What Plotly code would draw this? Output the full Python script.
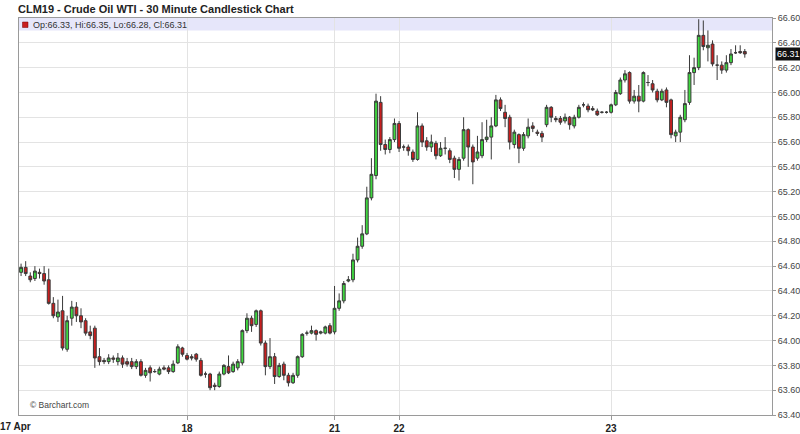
import plotly.graph_objects as go

# ---------------- data (30-minute bars) ----------------
opens = [
    64.55, 64.59, 64.52, 64.50, 64.55, 64.54, 64.49, 64.30, 64.19, 64.24,
    63.93, 64.18, 64.27, 64.20, 64.16, 64.07, 64.10, 63.87, 63.84, 63.83,
    63.86, 63.83, 63.86, 63.83, 63.83, 63.79, 63.83, 63.72, 63.78, 63.75,
    63.73, 63.78, 63.78, 63.75, 63.82, 63.94, 63.88, 63.87, 63.89, 63.84,
    63.73, 63.73, 63.64, 63.63, 63.73, 63.79, 63.75, 63.78, 63.82, 64.08,
    64.18, 64.13, 64.24, 63.98, 63.79, 63.87, 63.71, 63.81, 63.72, 63.66,
    63.72, 63.87, 64.06, 64.06, 64.08, 64.06, 64.06, 64.12, 64.07, 64.26,
    64.32, 64.48, 64.49, 64.65, 64.76, 64.86, 65.15, 65.33, 65.92, 65.58,
    65.54, 65.62, 65.75, 65.56, 65.56, 65.52, 65.46, 65.73, 65.61, 65.56,
    65.59, 65.49, 65.55, 65.53, 65.47, 65.38, 65.47, 65.70, 65.56, 65.47,
    65.49, 65.62, 65.64, 65.73, 65.94, 65.84, 65.80, 65.58, 65.66, 65.55,
    65.65, 65.73, 65.68, 65.67, 65.74, 65.88, 65.79, 65.79, 65.77, 65.80,
    65.73, 65.80, 65.90, 65.89, 65.87, 65.85, 65.84, 65.84, 65.84, 65.90,
    65.99, 66.10, 66.16, 65.93, 65.97, 65.93, 66.08, 66.07, 66.01, 65.94,
    66.02, 65.94, 65.65, 65.68, 65.78, 65.92, 66.16, 66.20, 66.46, 66.36,
    66.39, 66.22, 66.22, 66.18, 66.24, 66.32, 66.33, 66.33,
]
highs = [
    64.62, 64.64, 64.55, 64.60, 64.58, 64.60, 64.58, 64.35, 64.33, 64.36,
    64.20, 64.32, 64.31, 64.26, 64.18, 64.12, 64.12, 63.94, 63.86, 63.89,
    63.88, 63.90, 63.88, 63.86, 63.86, 63.85, 63.85, 63.78, 63.80, 63.77,
    63.79, 63.80, 63.80, 63.84, 63.97, 63.95, 63.90, 63.89, 63.90, 63.86,
    63.75, 63.74, 63.66, 63.75, 63.81, 63.88, 63.83, 63.85, 64.09, 64.22,
    64.20, 64.25, 64.25, 64.00, 64.02, 63.90, 63.82, 63.83, 63.74, 63.74,
    63.88, 64.06, 64.08, 64.12, 64.09, 64.08, 64.12, 64.14, 64.44, 64.38,
    64.48, 64.52, 64.70, 64.83, 64.93, 65.24, 65.47, 65.99, 65.97, 65.62,
    65.64, 65.79, 65.77, 65.58, 65.58, 65.54, 65.84, 65.75, 65.64, 65.66,
    65.61, 65.60, 65.64, 65.55, 65.49, 65.48, 65.80, 65.71, 65.58, 65.65,
    65.76, 65.78, 65.80, 65.98, 65.96, 65.90, 65.82, 65.70, 65.67, 65.68,
    65.79, 65.76, 65.70, 65.69, 65.90, 65.89, 65.81, 65.81, 65.83, 65.81,
    65.82, 65.90, 65.92, 65.91, 65.89, 65.87, 65.85, 65.85, 65.91, 66.02,
    66.12, 66.18, 66.17, 66.02, 66.06, 66.17, 66.14, 66.10, 66.03, 66.03,
    66.04, 65.95, 65.70, 65.82, 66.02, 66.30, 66.28, 66.59, 66.58, 66.50,
    66.42, 66.30, 66.25, 66.30, 66.35, 66.38, 66.38, 66.35,
]
lows = [
    64.52, 64.52, 64.47, 64.48, 64.50, 64.45, 64.29, 64.18, 64.15, 63.92,
    63.91, 64.12, 64.15, 64.10, 64.04, 64.01, 63.78, 63.80, 63.81, 63.81,
    63.82, 63.80, 63.78, 63.79, 63.77, 63.77, 63.71, 63.70, 63.67, 63.74,
    63.72, 63.76, 63.73, 63.74, 63.81, 63.87, 63.84, 63.84, 63.83, 63.71,
    63.70, 63.60, 63.60, 63.62, 63.72, 63.73, 63.74, 63.76, 63.80, 64.06,
    64.07, 64.11, 63.96, 63.72, 63.77, 63.65, 63.70, 63.68, 63.63, 63.65,
    63.70, 63.86, 64.04, 64.05, 64.00, 64.05, 64.05, 64.05, 64.05, 64.24,
    64.30, 64.47, 64.47, 64.63, 64.74, 64.85, 65.13, 65.30, 65.53, 65.50,
    65.51, 65.60, 65.52, 65.53, 65.49, 65.44, 65.45, 65.56, 65.53, 65.52,
    65.46, 65.48, 65.50, 65.43, 65.31, 65.29, 65.45, 65.40, 65.26, 65.45,
    65.47, 65.60, 65.46, 65.72, 65.85, 65.72, 65.54, 65.55, 65.43, 65.53,
    65.63, 65.68, 65.65, 65.60, 65.72, 65.76, 65.76, 65.74, 65.75, 65.70,
    65.71, 65.79, 65.88, 65.84, 65.85, 65.81, 65.83, 65.83, 65.83, 65.89,
    65.98, 66.08, 65.91, 65.91, 65.84, 65.92, 66.05, 66.00, 65.92, 65.93,
    65.88, 65.63, 65.60, 65.60, 65.76, 65.90, 66.06, 66.18, 66.34, 66.25,
    66.21, 66.10, 66.15, 66.16, 66.22, 66.31, 66.31, 66.28,
]
closes = [
    64.59, 64.54, 64.49, 64.56, 64.54, 64.48, 64.30, 64.20, 64.23, 63.94,
    64.16, 64.27, 64.20, 64.15, 64.06, 64.04, 63.86, 63.83, 63.83, 63.86,
    63.85, 63.86, 63.81, 63.81, 63.79, 63.83, 63.72, 63.76, 63.74, 63.75,
    63.77, 63.77, 63.75, 63.81, 63.95, 63.89, 63.85, 63.86, 63.85, 63.72,
    63.73, 63.62, 63.63, 63.73, 63.80, 63.74, 63.81, 63.83, 64.08, 64.18,
    64.12, 64.24, 63.98, 63.79, 63.87, 63.71, 63.80, 63.72, 63.66, 63.72,
    63.87, 64.05, 64.06, 64.08, 64.05, 64.07, 64.11, 64.06, 64.26, 64.32,
    64.46, 64.49, 64.65, 64.76, 64.86, 65.15, 65.34, 65.93, 65.58, 65.54,
    65.62, 65.75, 65.55, 65.56, 65.53, 65.46, 65.73, 65.60, 65.56, 65.60,
    65.49, 65.55, 65.55, 65.46, 65.38, 65.46, 65.70, 65.56, 65.44, 65.52,
    65.62, 65.64, 65.73, 65.94, 65.87, 65.79, 65.60, 65.68, 65.55, 65.66,
    65.72, 65.71, 65.67, 65.64, 65.88, 65.80, 65.78, 65.76, 65.80, 65.74,
    65.80, 65.88, 65.90, 65.86, 65.86, 65.82, 65.84, 65.84, 65.90, 66.00,
    66.10, 66.15, 65.93, 65.97, 65.93, 66.16, 66.08, 66.02, 65.94, 66.01,
    65.92, 65.66, 65.68, 65.80, 65.91, 66.16, 66.20, 66.46, 66.37, 66.38,
    66.23, 66.22, 66.18, 66.24, 66.31, 66.32, 66.32, 66.31,
]
bar_index = list(range(len(opens)))

tick_bars = [36, 68, 82, 128]
tick_labels = ["18", "21", "22", "23"]
first_label = "17 Apr"

y_min, y_max = 63.40, 66.60
header_low = 66.50

title_text = "CLM19 - Crude Oil WTI - 30 Minute Candlestick Chart"
last_o, last_h, last_l, last_c = opens[-1], highs[-1], lows[-1], closes[-1]
info_text = f"Op:{last_o:.2f}, Hi:{last_h:.2f}, Lo:{last_l:.2f}, Cl:{last_c:.2f}"

# ---------------- figure ----------------
FONT = "Liberation Sans, Arial, sans-serif"
GRID = "#e3e3e3"
AXIS = "#9a9a9a"

fig = go.Figure()
fig.add_trace(go.Candlestick(
    x=bar_index, open=opens, high=highs, low=lows, close=closes,
    increasing=dict(fillcolor="#3fd83f", line=dict(color="#3a3a3a", width=1)),
    decreasing=dict(fillcolor="#c81e1e", line=dict(color="#3a3a3a", width=1)),
    whiskerwidth=0, showlegend=False, hoverinfo="skip",
))

n = len(bar_index)
fig.update_layout(
    width=800, height=434,
    margin=dict(l=19, r=28, t=18, b=19, autoexpand=False),
    paper_bgcolor="white", plot_bgcolor="white",
    boxgap=0.12,
    font=dict(family=FONT, color="#333"),
    title=dict(text=title_text, x=18 / 800, xanchor="left", y=1 - 9 / 434, yanchor="middle",
               font=dict(family=FONT, size=11, color="#222", weight="bold")),
    xaxis=dict(
        range=[-0.45, n + 4.9], rangeslider=dict(visible=False),
        tickvals=tick_bars, ticktext=tick_labels,
        tickfont=dict(family=FONT, size=10, color="#222", weight="bold"),
        ticks="outside", ticklen=4, tickcolor=AXIS,
        showgrid=True, gridcolor=GRID, gridwidth=1,
        showline=True, linecolor=AXIS, linewidth=1, mirror=True,
        zeroline=False, fixedrange=True, automargin=False,
    ),
    yaxis=dict(
        side="right", range=[y_min, y_max], dtick=0.2, tick0=y_min, tickformat=".2f",
        tickfont=dict(family=FONT, size=9, color="#444"),
        ticks="outside", ticklen=3, tickcolor=AXIS, ticklabelstandoff=0,
        showgrid=True, gridcolor=GRID, gridwidth=1,
        showline=True, linecolor=AXIS, linewidth=1, mirror=True,
        zeroline=False, fixedrange=True, automargin=False,
    ),
)

# header band with last-bar info
fig.add_shape(type="rect", xref="paper", yref="y", x0=0, x1=1, y0=header_low, y1=y_max,
              fillcolor="#e6e6fa", line=dict(width=0), layer="below")
fig.add_shape(type="rect", xref="paper", yref="paper", x0=3.5 / 753, x1=9 / 753,
              y0=1 - 9.5 / 397, y1=1 - 4 / 397, fillcolor="#c81e1e",
              line=dict(color="#7a0000", width=0.5))
fig.add_annotation(text=info_text, xref="paper", yref="paper", x=12 / 753, y=1 - 6.8 / 397,
                   xanchor="left", yanchor="middle", showarrow=False,
                   font=dict(family=FONT, size=9, color="#333"))

# watermark
fig.add_annotation(text="© Barchart.com", xref="paper", yref="paper", x=9 / 753, y=10 / 397,
                   xanchor="left", yanchor="middle", showarrow=False,
                   font=dict(family=FONT, size=8.5, color="#444"))

# first date label at the left edge
fig.add_annotation(text=first_label, xref="paper", yref="paper", x=0, y=0, xshift=-4, yshift=-4,
                   xanchor="center", yanchor="top", showarrow=False,
                   font=dict(family=FONT, size=10, color="#222", weight="bold"))

# last price tag
fig.add_annotation(text=f"{last_c:.2f}", xref="paper", yref="y", x=1, y=last_c, xshift=3,
                   xanchor="left", yanchor="middle", showarrow=False,
                   bgcolor="#111", borderpad=1,
                   font=dict(family=FONT, size=9, color="white"))

fig.write_html("out.html", config={"displayModeBar": False},
               post_script="document.body.style.margin='0';")
